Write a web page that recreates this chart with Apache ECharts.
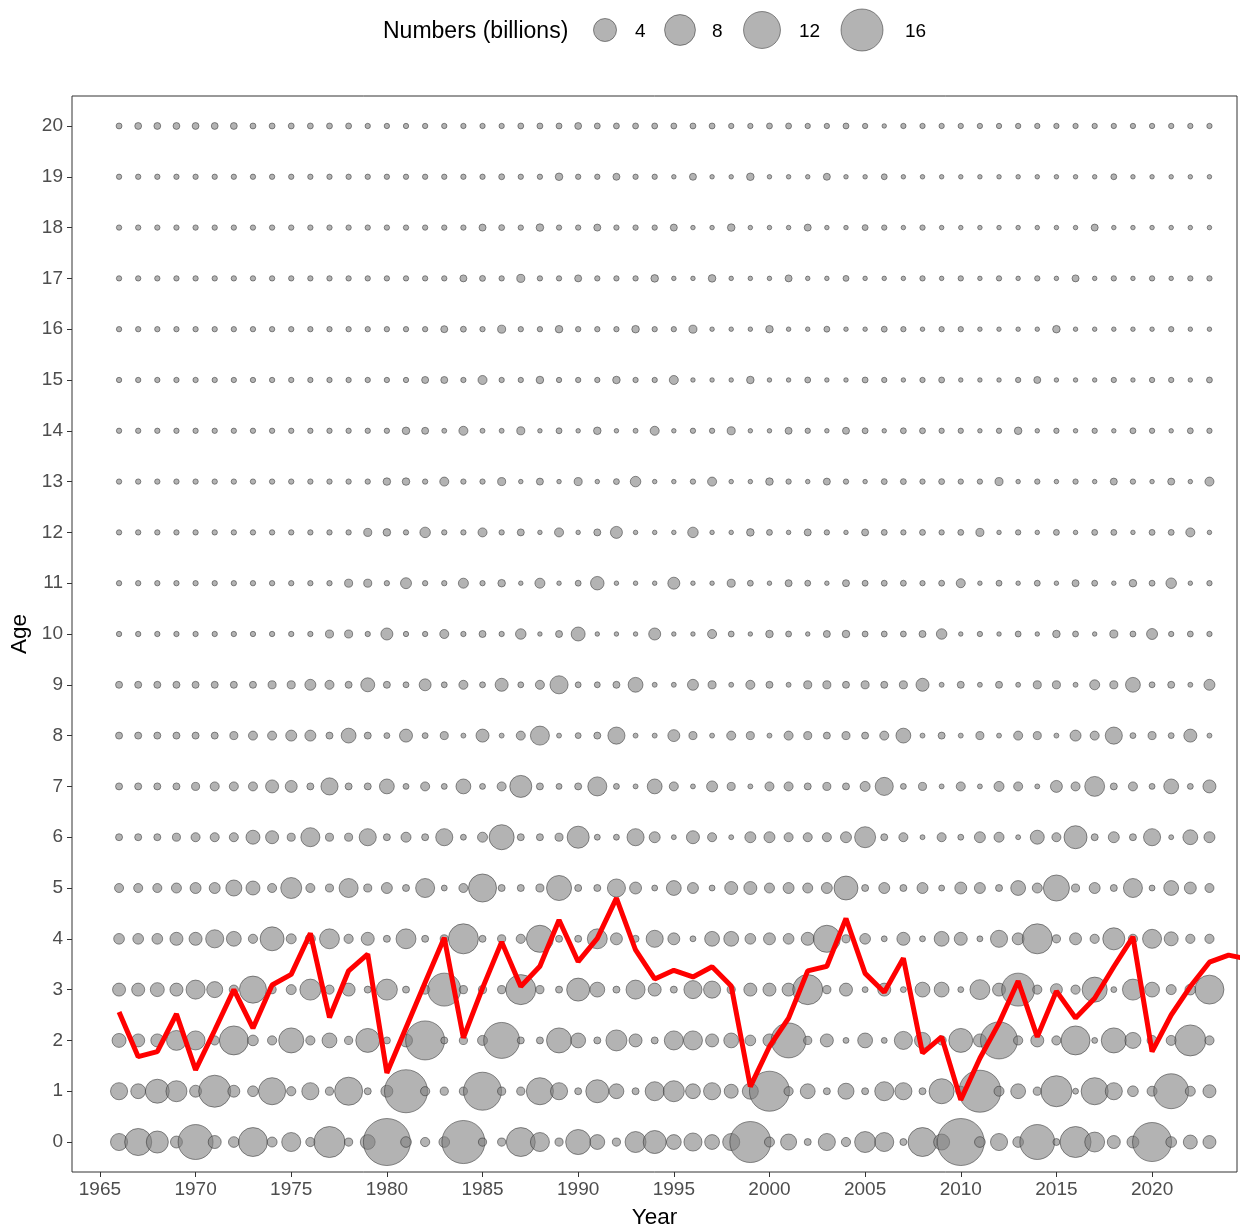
<!DOCTYPE html>
<html><head><meta charset="utf-8">
<script src="https://cdn.jsdelivr.net/npm/echarts@6/dist/echarts.min.js"></script>
<style>html,body{margin:0;padding:0;background:#fff}#c{width:1244px;height:1231px}</style>
</head><body><div id="c"></div>
<script>
const years = [1966,1967,1968,1969,1970,1971,1972,1973,1974,1975,
1976,1977,1978,1979,1980,1981,1982,1983,1984,1985,
1986,1987,1988,1989,1990,1991,1992,1993,1994,1995,
1996,1997,1998,1999,2000,2001,2002,2003,2004,2005,
2006,2007,2008,2009,2010,2011,2012,2013,2014,2015,
2016,2017,2018,2019,2020,2021,2022,2023];

// Numbers (billions) at each age, by year 1966..2023
const age0 = [1.9,5.9,3.6,0.7,10.6,0.9,0.5,6.9,0.4,2.5,
0.3,8.1,0.2,1.3,20.5,0.5,0.3,0.5,16.9,0.2,
0.2,6.9,2.5,0.2,4.9,1.3,0.2,3.2,4.0,1.3,
2.2,1.3,1.9,15.2,0.4,1.6,0.1,1.9,0.3,3.2,
2.5,0.1,6.9,1.6,20.5,0.5,1.9,0.5,10.6,0.1,
8.1,2.8,0.9,0.7,13.6,0.5,1.1,0.9];
const age1 = [1.9,1.3,4.4,3.2,0.7,8.7,0.7,0.5,5.9,0.3,
1.9,0.2,6.4,0.1,0.7,16.9,0.3,0.2,0.2,12.8,
0.2,0.2,5.9,1.9,0.1,4.0,1.3,0.1,2.5,3.2,
1.3,1.9,1.1,1.6,14.4,0.3,1.3,0.1,1.6,0.1,
2.5,1.9,0.1,4.9,0.4,16.0,0.4,1.3,0.2,8.1,
0.04,5.9,1.9,0.5,0.4,10.6,0.4,0.9];
const age2 = [1.1,0.9,0.9,2.8,2.5,0.3,6.9,0.5,0.3,4.9,
0.3,1.3,0.2,4.4,0.1,0.9,13.6,0.1,0.2,0.4,
11.3,0.1,0.1,4.9,1.3,0.1,3.2,0.9,0.1,2.5,
2.5,0.9,1.3,0.5,0.9,10.6,0.2,0.9,0.04,1.3,
0.04,2.2,1.6,0.3,4.4,0.9,12.1,0.3,0.9,0.3,
6.9,0.04,4.9,1.6,0.4,0.4,8.1,0.3];
const age3 = [0.9,0.9,1.1,0.9,2.5,1.6,0.3,5.9,0.2,0.4,
3.2,0.3,0.9,0.1,3.2,0.1,0.3,9.3,0.2,0.2,
0.2,7.5,0.2,0.1,4.0,1.3,0.1,2.5,0.9,0.1,
2.2,1.9,0.2,0.9,0.9,0.9,7.5,0.2,0.9,0.04,
0.9,0.04,1.3,1.3,0.04,2.8,0.9,9.3,0.3,0.7,
0.3,4.9,0.04,3.2,1.3,0.4,0.5,6.9];
const age4 = [0.5,0.5,0.5,0.9,0.9,2.2,1.3,0.3,4.4,0.4,
0.4,2.8,0.3,0.9,0.1,2.8,0.1,0.2,7.5,0.1,
0.2,0.3,5.9,0.1,0.1,2.8,0.7,0.1,1.9,0.7,
0.04,1.3,1.3,0.5,0.7,0.5,0.9,5.9,0.2,0.5,
0.04,0.9,0.04,1.3,0.9,0.04,1.9,0.7,7.5,0.2,
0.7,0.3,3.6,0.3,2.5,1.1,0.3,0.3];
const age5 = [0.28,0.28,0.28,0.4,0.54,0.54,1.6,1.1,0.28,3.2,
0.28,0.18,2.5,0.18,0.54,0.1,2.5,0.04,0.28,6.4,
0.1,0.1,0.18,4.9,0.1,0.1,2.2,0.7,0.04,1.3,
0.54,0.04,0.9,0.9,0.4,0.54,0.4,0.54,4.4,0.1,
0.54,0.1,0.54,0.04,0.7,0.54,0.1,1.3,0.4,5.4,
0.18,0.54,0.1,2.5,0.04,1.3,0.7,0.28];
const age6 = [0.1,0.1,0.1,0.18,0.28,0.28,0.28,1.1,0.9,0.18,
2.5,0.18,0.18,1.9,0.1,0.4,0.1,1.9,0.04,0.4,
4.9,0.1,0.1,0.18,3.6,0.04,0.04,1.9,0.54,0.01,
0.9,0.28,0.01,0.54,0.54,0.28,0.28,0.28,0.54,3.2,
0.1,0.28,0.01,0.28,0.04,0.54,0.4,0.01,1.1,0.28,
4.0,0.1,0.54,0.1,1.9,0.01,1.3,0.54];
const age7 = [0.1,0.1,0.1,0.1,0.18,0.28,0.28,0.28,0.9,0.7,
0.1,1.9,0.1,0.1,1.3,0.04,0.28,0.04,1.3,0.04,
0.28,3.6,0.1,0.04,0.1,2.5,0.04,0.01,1.3,0.28,
0.01,0.54,0.18,0.01,0.28,0.28,0.1,0.18,0.1,0.4,
2.2,0.04,0.18,0.01,0.28,0.01,0.4,0.28,0.01,0.7,
0.28,2.8,0.1,0.28,0.04,1.3,0.04,0.9];
const age8 = [0.1,0.1,0.1,0.1,0.1,0.1,0.18,0.28,0.28,0.54,
0.54,0.1,1.3,0.1,0.04,0.9,0.04,0.18,0.01,0.9,
0.01,0.28,2.5,0.01,0.04,0.1,1.9,0.01,0.01,0.7,
0.18,0.01,0.28,0.18,0.01,0.28,0.18,0.1,0.18,0.1,
0.28,1.3,0.01,0.1,0.01,0.18,0.01,0.28,0.18,0.01,
0.54,0.28,1.9,0.04,0.18,0.04,0.9,0.01];
const age9 = [0.1,0.1,0.1,0.1,0.1,0.1,0.1,0.1,0.18,0.18,
0.54,0.28,0.1,1.1,0.1,0.04,0.7,0.04,0.28,0.04,
0.9,0.04,0.28,2.2,0.04,0.04,0.1,1.3,0.01,0.01,
0.54,0.18,0.01,0.28,0.1,0.01,0.18,0.18,0.1,0.18,
0.1,0.18,0.9,0.01,0.1,0.01,0.1,0.01,0.18,0.18,
0.01,0.4,0.18,1.3,0.04,0.1,0.01,0.54];
const age10 = [0.02,0.02,0.02,0.02,0.02,0.02,0.02,0.02,0.02,0.02,
0.02,0.18,0.18,0.02,0.71,0.02,0.02,0.28,0.02,0.1,
0.02,0.47,0.003,0.1,1.1,0.003,0.003,0.003,0.71,0.003,
0.003,0.28,0.04,0.003,0.14,0.04,0.003,0.1,0.14,0.04,
0.04,0.04,0.1,0.47,0.003,0.02,0.003,0.04,0.003,0.14,
0.04,0.003,0.18,0.04,0.54,0.02,0.04,0.02];
const age11 = [0.02,0.02,0.02,0.02,0.02,0.02,0.02,0.02,0.02,0.02,
0.02,0.02,0.18,0.18,0.02,0.54,0.02,0.02,0.4,0.02,
0.14,0.003,0.4,0.003,0.04,1.0,0.003,0.003,0.003,0.71,
0.003,0.003,0.18,0.04,0.003,0.1,0.04,0.003,0.1,0.04,
0.04,0.04,0.02,0.04,0.28,0.003,0.04,0.003,0.04,0.003,
0.1,0.04,0.003,0.14,0.04,0.47,0.003,0.02];
const age12 = [0.02,0.02,0.02,0.02,0.02,0.02,0.02,0.02,0.02,0.02,
0.02,0.02,0.02,0.18,0.14,0.02,0.47,0.02,0.02,0.28,
0.02,0.1,0.003,0.28,0.003,0.1,0.71,0.003,0.003,0.003,
0.47,0.003,0.003,0.14,0.04,0.003,0.1,0.02,0.003,0.1,
0.04,0.02,0.04,0.02,0.04,0.18,0.003,0.02,0.003,0.04,
0.003,0.04,0.04,0.003,0.04,0.04,0.28,0.003];
const age13 = [0.02,0.02,0.02,0.02,0.02,0.02,0.02,0.02,0.02,0.02,
0.02,0.02,0.02,0.02,0.14,0.14,0.02,0.28,0.02,0.02,
0.18,0.003,0.1,0.003,0.18,0.003,0.04,0.47,0.003,0.003,
0.02,0.28,0.003,0.003,0.14,0.02,0.003,0.1,0.02,0.003,
0.04,0.04,0.02,0.04,0.02,0.02,0.18,0.003,0.02,0.003,
0.02,0.003,0.1,0.02,0.003,0.1,0.003,0.28];
const age14 = [0.02,0.02,0.02,0.02,0.02,0.02,0.02,0.02,0.02,0.02,
0.02,0.02,0.02,0.02,0.02,0.14,0.1,0.01,0.28,0.01,
0.01,0.18,0.003,0.04,0.003,0.14,0.003,0.01,0.28,0.003,
0.02,0.02,0.18,0.003,0.003,0.1,0.02,0.003,0.1,0.04,
0.003,0.04,0.04,0.02,0.02,0.003,0.02,0.14,0.003,0.02,
0.003,0.02,0.003,0.04,0.02,0.003,0.04,0.02];
const age15 = [0.02,0.02,0.02,0.02,0.02,0.02,0.02,0.02,0.02,0.02,
0.02,0.02,0.02,0.02,0.02,0.02,0.1,0.1,0.02,0.28,
0.02,0.02,0.14,0.02,0.02,0.02,0.14,0.02,0.02,0.28,
0.003,0.003,0.003,0.14,0.003,0.003,0.04,0.003,0.003,0.04,
0.02,0.003,0.02,0.04,0.003,0.003,0.003,0.02,0.1,0.003,
0.003,0.003,0.02,0.003,0.02,0.02,0.003,0.04];
const age16 = [0.02,0.02,0.02,0.02,0.02,0.02,0.02,0.02,0.02,0.02,
0.02,0.02,0.02,0.02,0.02,0.02,0.02,0.1,0.04,0.02,
0.18,0.02,0.02,0.14,0.02,0.02,0.02,0.14,0.02,0.02,
0.18,0.003,0.003,0.003,0.14,0.003,0.003,0.04,0.003,0.003,
0.04,0.02,0.003,0.02,0.02,0.003,0.003,0.003,0.003,0.14,
0.003,0.003,0.003,0.003,0.003,0.02,0.003,0.003];
const age17 = [0.02,0.02,0.02,0.02,0.02,0.02,0.02,0.02,0.02,0.02,
0.02,0.02,0.02,0.02,0.02,0.02,0.02,0.02,0.1,0.04,
0.02,0.18,0.02,0.02,0.1,0.02,0.02,0.02,0.14,0.003,
0.003,0.14,0.003,0.003,0.003,0.1,0.003,0.003,0.04,0.003,
0.003,0.003,0.02,0.003,0.02,0.003,0.02,0.003,0.02,0.003,
0.1,0.003,0.02,0.003,0.02,0.003,0.02,0.02];
const age18 = [0.02,0.02,0.02,0.02,0.02,0.02,0.02,0.02,0.02,0.02,
0.02,0.02,0.02,0.02,0.02,0.02,0.02,0.02,0.02,0.1,
0.04,0.02,0.14,0.02,0.02,0.1,0.02,0.02,0.02,0.1,
0.003,0.003,0.14,0.003,0.003,0.003,0.1,0.003,0.003,0.04,
0.02,0.003,0.02,0.003,0.003,0.003,0.003,0.003,0.003,0.003,
0.003,0.1,0.003,0.003,0.003,0.003,0.003,0.003];
const age19 = [0.02,0.02,0.02,0.02,0.02,0.02,0.02,0.02,0.02,0.02,
0.02,0.02,0.02,0.02,0.02,0.02,0.02,0.02,0.02,0.02,
0.04,0.02,0.02,0.14,0.02,0.02,0.1,0.02,0.02,0.003,
0.1,0.003,0.003,0.14,0.003,0.003,0.003,0.1,0.003,0.003,
0.04,0.003,0.003,0.003,0.003,0.003,0.003,0.003,0.003,0.003,
0.003,0.003,0.04,0.003,0.003,0.003,0.003,0.003];
const age20 = [0.04,0.09,0.09,0.09,0.09,0.09,0.09,0.04,0.04,0.04,
0.04,0.04,0.04,0.02,0.02,0.02,0.02,0.02,0.02,0.02,
0.02,0.04,0.04,0.04,0.09,0.04,0.04,0.04,0.04,0.04,
0.04,0.04,0.02,0.02,0.04,0.04,0.02,0.02,0.04,0.02,
0.003,0.02,0.02,0.02,0.02,0.02,0.02,0.02,0.02,0.02,
0.02,0.02,0.02,0.02,0.02,0.02,0.02,0.02];

const ageRows = [age0,age1,age2,age3,age4,age5,age6,age7,age8,age9,age10,
  age11,age12,age13,age14,age15,age16,age17,age18,age19,age20];

// Red line (mean age) by year
const lineYears = [1966,1967,1968,1969,1970,1971,1972,1973,1974,1975,
1976,1977,1978,1979,1980,1981,1982,1983,1984,1985,
1986,1987,1988,1989,1990,1991,1992,1993,1994,1995,
1996,1997,1998,1999,2000,2001,2002,2003,2004,2005,
2006,2007,2008,2009,2010,2011,2012,2013,2014,2015,
2016,2017,2018,2019,2020,2021,2022,2023,2024,2025];
const meanAge = [2.56,1.68,1.78,2.52,1.42,2.2,3.0,2.24,3.09,3.3,
4.11,2.45,3.37,3.7,1.36,2.25,3.14,4.02,2.05,3.03,
3.94,3.06,3.46,4.37,3.55,4.01,4.8,3.78,3.21,3.38,
3.25,3.45,3.07,1.09,1.88,2.44,3.37,3.46,4.4,3.32,
2.95,3.62,1.75,2.07,0.83,1.65,2.34,3.17,2.07,2.97,
2.44,2.83,3.45,4.04,1.78,2.5,3.06,3.54,3.68,3.6];

const legendValues = [4,8,12,16];
const xTicks = [1965,1970,1975,1980,1985,1990,1995,2000,2005,2010,2015,2020];
const yTicks = [0,1,2,3,4,5,6,7,8,9,10,11,12,13,14,15,16,17,18,19,20];

function sizeOf(v){ return 4 + 9.5*Math.sqrt(v); }

const pts = [];
ageRows.forEach((row, a) => row.forEach((v, i) => pts.push([years[i], a, v])));

const FONT = '"Liberation Sans", Arial, sans-serif';
const fillC = 'rgba(128,128,128,0.6)';
const strokeC = 'rgba(40,40,40,0.5)';

// legend graphic
const legendX = [605, 680, 762, 862];
const legendTX = [635, 712, 799, 905];
const graphics = [{
  type:'text', left: 383, top: 20,
  style:{text:'Numbers (billions)', font:'23px ' + FONT, fill:'#000'}
}];
legendValues.forEach((v,i)=>{
  const r = sizeOf(v)/2;
  graphics.push({type:'circle', shape:{cx:legendX[i], cy:30, r:r},
    style:{fill:fillC, stroke:strokeC, lineWidth:1}});
  graphics.push({type:'text', left:legendTX[i], top:22,
    style:{text:String(v), font:'19px ' + FONT, fill:'#000'}});
});

const chart = echarts.init(document.getElementById('c'), null, {renderer:'canvas'});
chart.setOption({
  animation:false,
  backgroundColor:'#fff',
  textStyle:{fontFamily:FONT},
  grid:{left:72, right:7, top:96, bottom:59, containLabel:false, outerBoundsMode:'none',
    show:true, borderColor:'#333', borderWidth:1, backgroundColor:'transparent'},
  xAxis:{type:'value', min:1963.54, max:2024.44,
    name:'Year', nameLocation:'middle', nameGap:34,
    nameTextStyle:{fontSize:22.5, color:'#000', fontFamily:FONT},
    axisLine:{show:false, onZero:false},
    axisTick:{show:true, customValues:xTicks, length:5, lineStyle:{color:'#333'}},
    axisLabel:{customValues:xTicks, fontSize:19, color:'#4d4d4d', margin:8, fontFamily:FONT,
      formatter:(v)=>String(v)},
    splitLine:{show:false}},
  yAxis:{type:'value', min:-0.59, max:20.59,
    name:'Age', nameLocation:'middle', nameGap:40, nameRotate:90,
    nameTextStyle:{fontSize:22.5, color:'#000', fontFamily:FONT},
    axisLine:{show:false, onZero:false},
    axisTick:{show:true, customValues:yTicks, length:5, lineStyle:{color:'#333'}},
    axisLabel:{customValues:yTicks, fontSize:19, color:'#4d4d4d', margin:9, fontFamily:FONT,
      formatter:(v)=>String(v)},
    splitLine:{show:false}},
  graphic: graphics,
  series:[
    {type:'scatter', data:pts, symbol:'circle',
      symbolSize:(d)=>sizeOf(d[2]),
      progressive:0, large:false,
      itemStyle:{color:fillC, borderColor:strokeC, borderWidth:1, opacity:1},
      emphasis:{disabled:true}, z:2},
    {type:'line', data:lineYears.map((y,i)=>[y, meanAge[i]]), symbol:'none',
      lineStyle:{color:'#ff0000', width:5}, clip:true, z:3,
      emphasis:{disabled:true}}
  ]
});
</script></body></html>
